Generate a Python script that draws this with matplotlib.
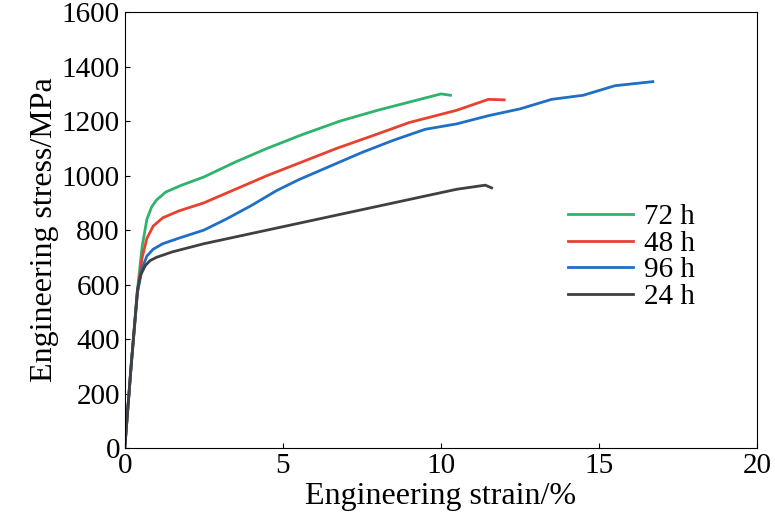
import matplotlib
matplotlib.use("Agg")
import matplotlib.pyplot as plt

plt.rcParams['font.family'] = ['Liberation Serif']

labels = ["72 h", "48 h", "96 h", "24 h"]
colors = ["#2db36b", "#e8412f", "#1f6fc4", "#404040"]
x72 = [0, 0.2, 0.4, 0.55, 0.7, 0.85, 1.0, 1.3, 1.8, 2.5, 3.5, 4.5, 5.6, 6.8, 8.0, 9.0, 10.0, 10.3]
y72 = [0, 300, 580, 740, 840, 885, 910, 940, 965, 995, 1050, 1100, 1150, 1200, 1240, 1270, 1300, 1295]
x48 = [0, 0.2, 0.4, 0.55, 0.7, 0.9, 1.2, 1.7, 2.5, 3.5, 4.5, 5.6, 6.7, 7.8, 9.0, 10.5, 11.5, 12.0]
y48 = [0, 300, 570, 700, 770, 815, 845, 870, 900, 950, 1000, 1050, 1100, 1145, 1195, 1240, 1280, 1278]
x96 = [0, 0.2, 0.4, 0.55, 0.7, 0.9, 1.2, 1.7, 2.5, 3.2, 4.0, 4.8, 5.5, 6.5, 7.5, 8.5, 9.5, 10.5, 11.5, 12.5, 13.5, 14.5, 15.5, 16.7]
y96 = [0, 300, 570, 660, 705, 730, 750, 770, 800, 840, 890, 945, 985, 1035, 1085, 1130, 1170, 1190, 1220, 1245, 1280, 1295, 1330, 1345]
x24 = [0, 0.2, 0.4, 0.5, 0.65, 0.8, 1.0, 1.5, 2.5, 3.5, 4.5, 5.5, 6.5, 7.5, 8.5, 9.5, 10.5, 11.4, 11.6]
y24 = [0, 300, 580, 635, 670, 688, 700, 720, 750, 775, 800, 825, 850, 875, 900, 925, 950, 965, 955]

fig = plt.figure(figsize=(7.75, 5.29), dpi=100)
ax = fig.add_axes([0.161, 0.153, 0.816, 0.824])
for xs, ys, lab, c in zip([x72, x48, x96, x24], [y72, y48, y96, y24], labels, colors):
    ax.plot(xs, ys, color=c, lw=2, label=lab)
ax.set_xlim(0, 20)
ax.set_ylim(0, 1600)
ax.set_xticks([0, 5, 10, 15, 20])
ax.set_yticks(range(0, 1601, 200))
ax.tick_params(labelsize=21, direction='in')
ax.set_xlabel("Engineering strain/%", fontsize=23, labelpad=2)
ax.set_ylabel("Engineering stress/MPa", fontsize=23, labelpad=2)
ax.legend(frameon=False, fontsize=21, loc='upper left', bbox_to_anchor=(0.66, 0.62),
          handlelength=2.2, labelspacing=0.0, handletextpad=0.4)
fig.savefig("out.png")
